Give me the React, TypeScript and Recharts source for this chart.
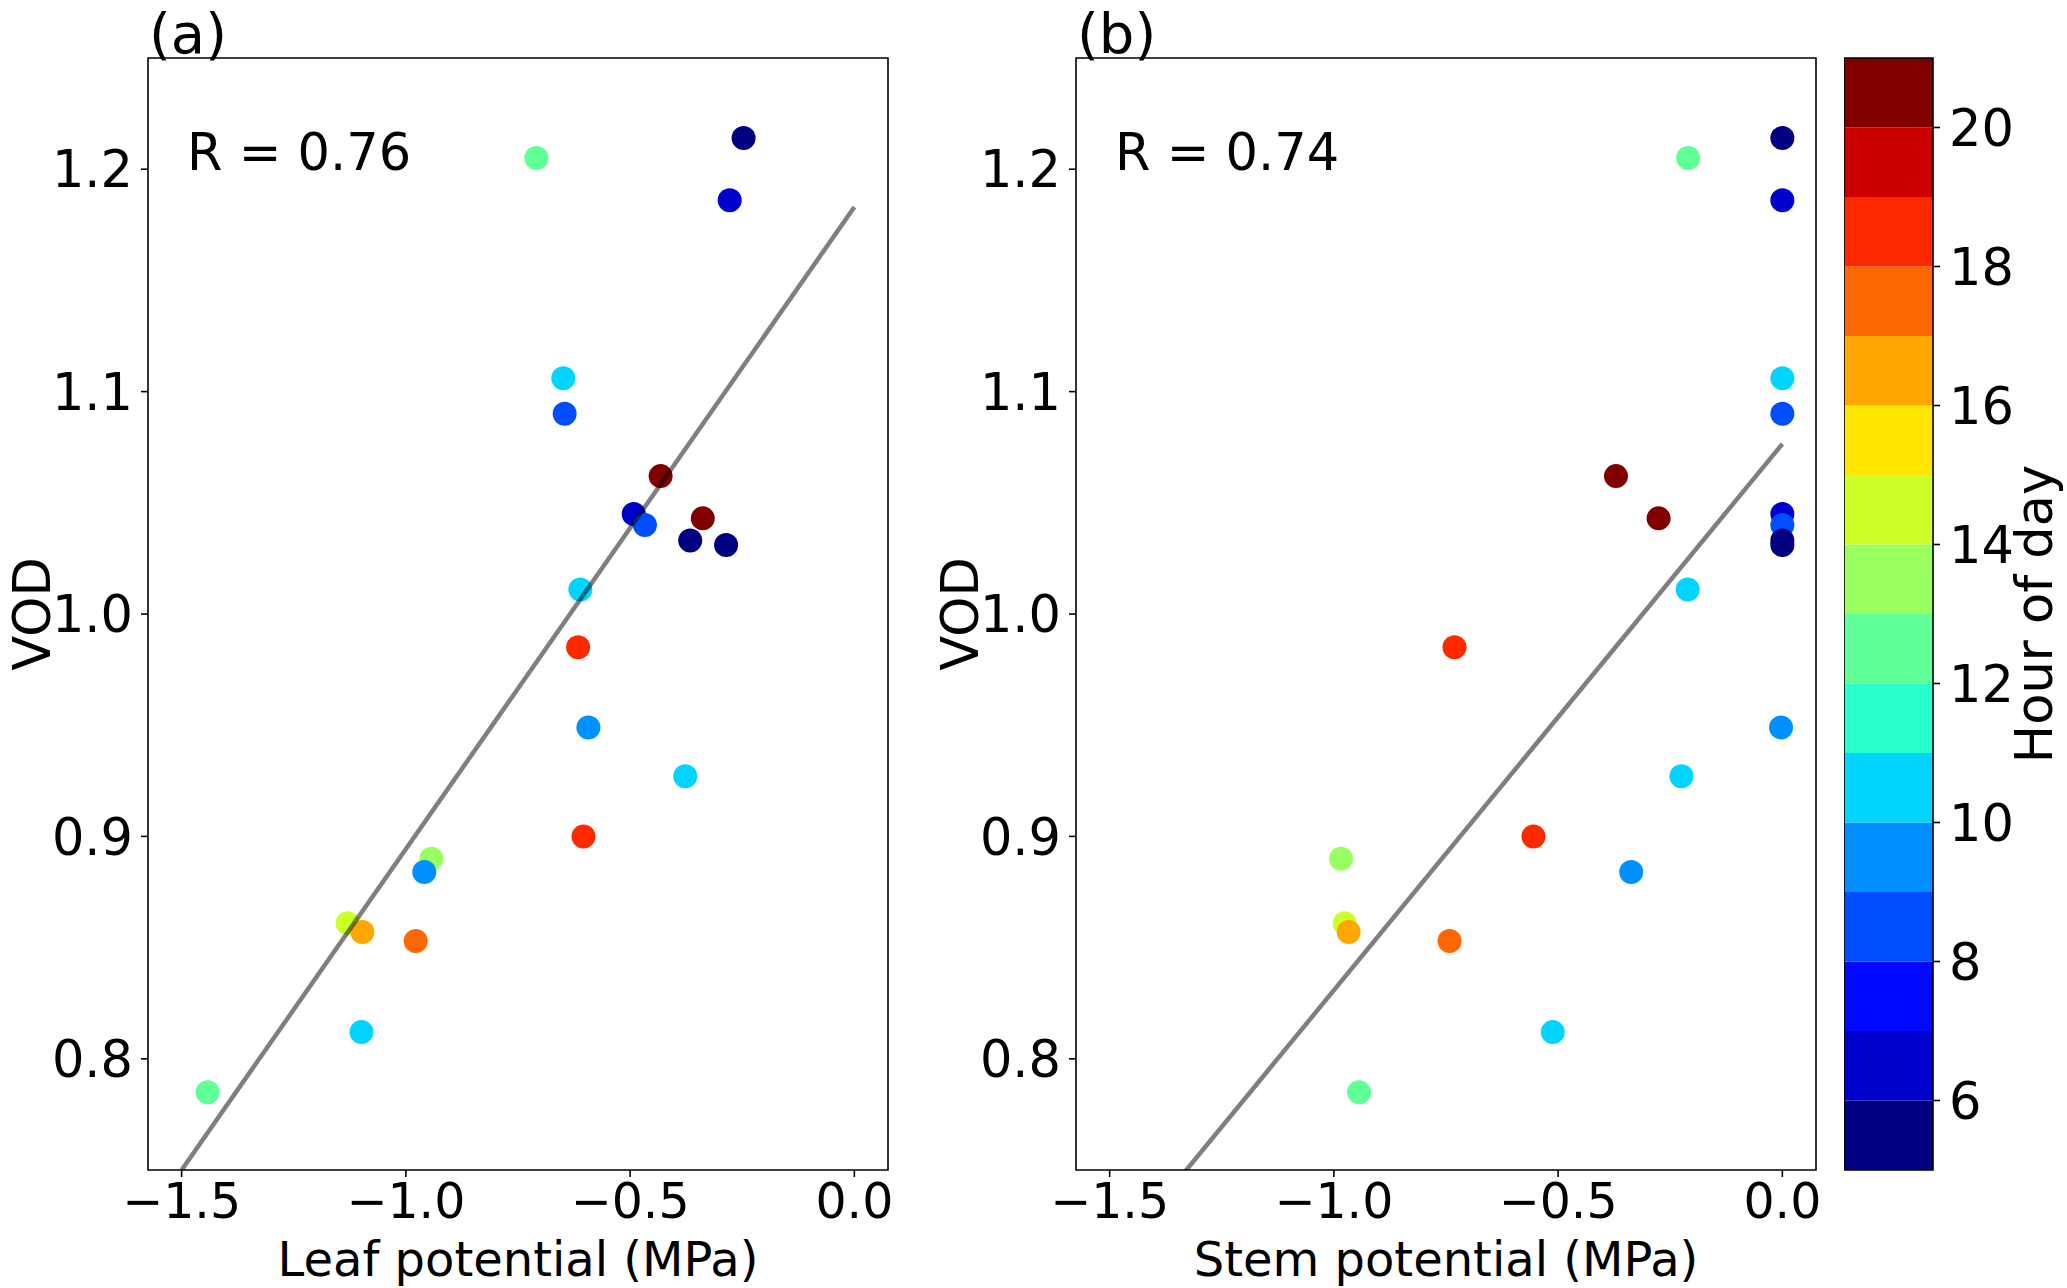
import React from 'react';
import {ScatterChart, Scatter, XAxis, YAxis, ReferenceArea, Label} from 'recharts';

const FONT = '"DejaVu Sans", sans-serif';

// VOD and hour of day per observation (same order in both panels)
const vod = [1.214, 1.205, 1.186, 1.106, 1.090, 1.062, 1.045, 1.040, 1.043, 1.033, 1.031, 1.011,
  0.985, 0.949, 0.927, 0.900, 0.890, 0.884, 0.861, 0.857, 0.853, 0.812, 0.785];
const hourOfDay = [5, 12, 6, 10, 8, 20, 6, 8, 20, 5, 5, 10, 18, 9, 10, 18, 13, 9, 14, 16, 17, 10, 12];
const leafPotential = [-0.247, -0.709, -0.278, -0.649, -0.646, -0.432, -0.492, -0.467, -0.338, -0.366, -0.286, -0.611,
  -0.616, -0.593, -0.377, -0.604, -0.943, -0.959, -1.130, -1.097, -0.978, -1.099, -1.442];
const stemPotential = [0, -0.21, 0, 0, 0, -0.371, 0, 0, -0.276, 0, 0, -0.211,
  -0.731, -0.003, -0.225, -0.555, -0.984, -0.337, -0.976, -0.967, -0.742, -0.512, -0.944];

// regression lines
const fitX = [-1.5, 0];
const leafFitY = [0.75, 1.183];
const stemFitY = [0.708, 1.0765];

const xDomain = [-1.575, 0.075];
const yDomain = [0.75, 1.25];
const xTicks = [-1.5, -1.0, -0.5, 0];
const yTicks = [0.8, 0.9, 1.0, 1.1, 1.2];

// discrete jet colorbar, one level per hour from 5 to 21
const hourLevels = [5, 6, 7, 8, 9, 10, 11, 12, 13, 14, 15, 16, 17, 18, 19, 20];
const jetColors = ['#000080', '#0000cd', '#0008ff', '#004cff', '#0090ff', '#00d4ff', '#29ffce', '#60ff97',
  '#97ff60', '#ceff29', '#ffe600', '#ffa700', '#ff6800', '#ff2900', '#cd0000', '#800000'];
const hourTicks = [6, 8, 10, 12, 14, 16, 18, 20];

const hourColor = (h: number) => jetColors[Math.max(0, Math.min(15, Math.floor(h) - 5))];
const fmtX = (v: number) => (v < -1e-9 ? '\u2212' + Math.abs(v).toFixed(1) : Math.abs(v).toFixed(1));

const FS = 51;
const tickStyle = {fill: '#000', fontSize: FS, fontFamily: FONT};

function Panel({left, xs, fitY, xLabel, rText, tag}: any) {
  const points = vod.map((v, i) => ({x: xs[i], y: v, hour: hourOfDay[i]}));
  const fit = fitX.map((x, i) => ({x, y: fitY[i]}));
  return (
    <div style={{position: 'absolute', left, top: 0}}>
      <ScatterChart width={1000} height={1288} margin={{top: 58, right: 112, bottom: 0, left: 0}}>
        <XAxis type="number" dataKey="x" domain={xDomain} ticks={xTicks} allowDataOverflow
               axisLine={false} tickLine={{stroke: '#000', strokeWidth: 1.6}} tickSize={7} tickMargin={6}
               tick={{...tickStyle, fontSize: 49}} tickFormatter={fmtX} height={118} interval={0}/>
        <YAxis type="number" dataKey="y" domain={yDomain} ticks={yTicks} allowDataOverflow
               axisLine={false} tickLine={{stroke: '#000', strokeWidth: 1.6}} tickSize={7} tickMargin={8}
               tick={tickStyle} tickFormatter={(v: number) => v.toFixed(1)} width={148} interval={0}/>
        <Scatter data={points} isAnimationActive={false}
                 shape={(p: any) => <circle cx={p.cx} cy={p.cy} r={12} fill={hourColor(p.payload.hour)}/>}/>
        <Scatter data={fit} isAnimationActive={false} line={{stroke: '#000', strokeOpacity: 0.5, strokeWidth: 4.5}}
                 shape={() => <g/>}/>
        <ReferenceArea x1={xDomain[0]} x2={xDomain[1]} y1={yDomain[0]} y2={yDomain[1]} ifOverflow="visible"
                       fill="none" stroke="#000" strokeWidth={1.6}>
          <Label content={(p: any) => (
            <text x={p.viewBox.x + 1} y={p.viewBox.y - 5} fontSize={56} fontFamily={FONT} fill="#000">{tag}</text>
          )}/>
          <Label content={(p: any) => (
            <text x={p.viewBox.x + 39} y={p.viewBox.y + 112} fontSize={FS} fontFamily={FONT} fill="#000">{rText}</text>
          )}/>
          <Label content={(p: any) => (
            <text x={p.viewBox.x + p.viewBox.width / 2} y={p.viewBox.y + p.viewBox.height + 106}
                  textAnchor="middle" fontSize={48} fontFamily={FONT} fill="#000">{xLabel}</text>
          )}/>
          <Label content={(p: any) => {
            const x = p.viewBox.x - 98;
            const y = p.viewBox.y + p.viewBox.height / 2;
            return (
              <text x={x} y={y} transform={`rotate(-90 ${x} ${y})`} textAnchor="middle"
                    fontSize={FS} fontFamily={FONT} fill="#000">VOD</text>
            );
          }}/>
        </ReferenceArea>
      </ScatterChart>
    </div>
  );
}

function ColorBar() {
  // one invisible point per level so the chart has data for its axes
  const cells = hourLevels.map((h) => ({x: 0.5, y: h + 0.5}));
  return (
    <div style={{position: 'absolute', left: 1844, top: 0}}>
      <ScatterChart width={223} height={1288} margin={{top: 58, right: 0, bottom: 118, left: 0}}>
        <XAxis type="number" dataKey="x" domain={[0, 1]} hide/>
        <YAxis type="number" dataKey="y" orientation="right" domain={[5, 21]} ticks={hourTicks} width={134}
               axisLine={false} tickLine={{stroke: '#000', strokeWidth: 1.6}} tickSize={7} tickMargin={9}
               tick={tickStyle} interval={0}/>
        {hourLevels.map((h, i) => (
          <ReferenceArea key={h} x1={0} x2={1} y1={h} y2={h + 1} fill={jetColors[i]} fillOpacity={1}
                         stroke="none" ifOverflow="visible"/>
        ))}
        <Scatter data={cells} isAnimationActive={false} shape={() => <g/>}/>
        <ReferenceArea x1={0} x2={1} y1={5} y2={21} fill="none" stroke="#000" strokeWidth={1.6} ifOverflow="visible">
          <Label content={(p: any) => {
            const x = p.viewBox.x + p.viewBox.width + 119;
            const y = p.viewBox.y + p.viewBox.height / 2;
            return (
              <text x={x} y={y} transform={`rotate(-90 ${x} ${y})`} textAnchor="middle"
                    fontSize={FS} fontFamily={FONT} fill="#000">Hour of day</text>
            );
          }}/>
        </ReferenceArea>
      </ScatterChart>
    </div>
  );
}

export default function App() {
  return (
    <div style={{position: 'absolute', left: 0, top: 0, width: 2067, height: 1288, background: '#fff', overflow: 'hidden'}}>
      <Panel left={0} xs={leafPotential} fitY={leafFitY} xLabel="Leaf potential (MPa)" rText="R = 0.76" tag="(a)"/>
      <Panel left={928} xs={stemPotential} fitY={stemFitY} xLabel="Stem potential (MPa)" rText="R = 0.74" tag="(b)"/>
      <ColorBar/>
    </div>
  );
}
